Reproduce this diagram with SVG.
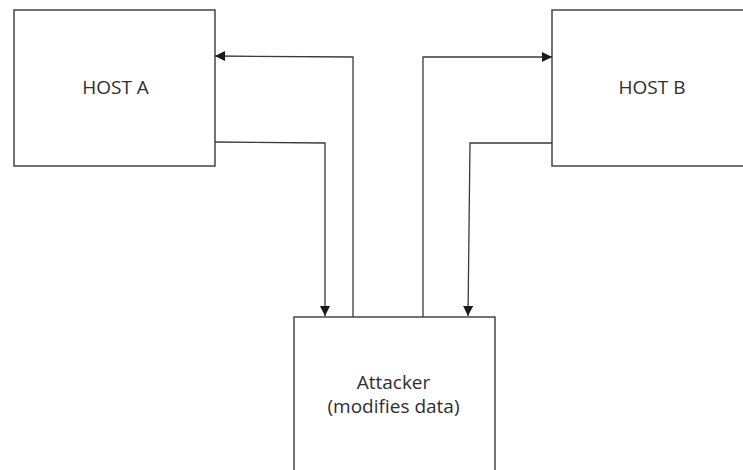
<svg xmlns="http://www.w3.org/2000/svg" width="743" height="470" viewBox="0 0 743 470">
  <style>
    .box { fill: #ffffff; stroke: #3a3a3a; stroke-width: 1.4; }
    .wire { fill: none; stroke: #3a3a3a; stroke-width: 1.3; }
    .label { font-family: "Open Sans", "Liberation Sans", sans-serif; font-size: 19px; fill: #2e2e2e; text-anchor: middle; }
  </style>
  <defs>
    <marker id="arrow" viewBox="0 0 10 10" refX="10" refY="5" markerWidth="10" markerHeight="10" markerUnits="userSpaceOnUse" orient="auto">
      <path d="M0,0 L10,5 L0,10 z" fill="#1a1a1a"/>
    </marker>
  </defs>
  <rect width="743" height="470" fill="#ffffff"/>

  <g id="host-a">
    <rect class="box" x="14" y="10" width="201" height="156"/>
    <text class="label" x="115.5" y="93.5">HOST A</text>
  </g>

  <g id="host-b">
    <rect class="box" x="552" y="10" width="200" height="156"/>
    <text class="label" x="652" y="93.5">HOST B</text>
  </g>

  <g id="attacker">
    <rect class="box" x="294" y="317" width="201" height="160"/>
    <text class="label" x="393.5" y="388.5">Attacker</text>
    <text class="label" x="393.5" y="413">(modifies data)</text>
  </g>

  <g id="connectors">
    <!-- Host A to attacker -->
    <polyline class="wire" points="215,142 325,143 325,316" marker-end="url(#arrow)"/>
    <!-- attacker back to Host A -->
    <polyline class="wire" points="353,317 353,57 215,56" marker-end="url(#arrow)"/>
    <!-- attacker to Host B -->
    <polyline class="wire" points="423,317 423,57 552,57" marker-end="url(#arrow)"/>
    <!-- Host B to attacker -->
    <polyline class="wire" points="552,143 470,143 468,316" marker-end="url(#arrow)"/>
  </g>
</svg>
